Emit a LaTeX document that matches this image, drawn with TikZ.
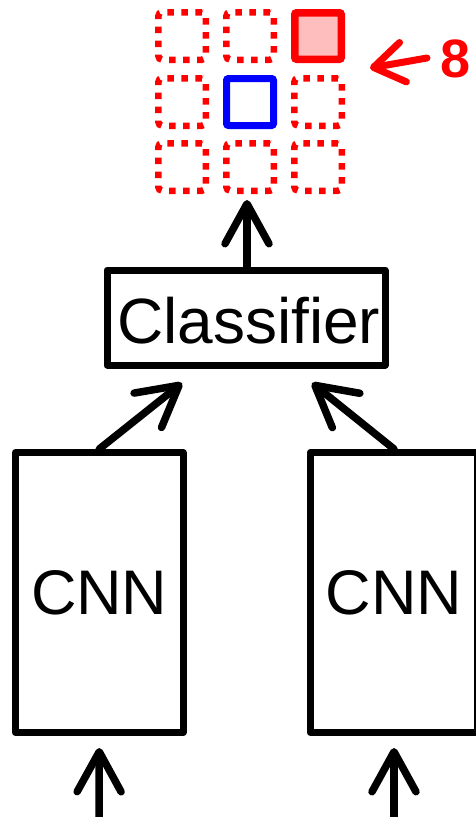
\documentclass[tikz,border=0pt]{standalone}
\usepackage{fontspec}
\setmainfont{Liberation Sans}
\usetikzlibrary{arrows.meta}
\definecolor{pinkfill}{RGB}{255,190,190}
\begin{document}
\begin{tikzpicture}[x=1pt,y=-1pt,
  boxst/.style={draw=black, line width=7pt, line join=round, inner sep=0pt},
  arr/.style={line width=7.5pt, line cap=round, -{Straight Barb[length=40pt,width=44pt,round]}},
  redarr/.style={draw=red, line width=7pt, line cap=round, -{Straight Barb[length=30pt,width=40pt,round]}},
  dotbox/.style={draw=red, line width=6.5pt, dash pattern=on 6.5pt off 7.5pt, rounded corners=4pt, minimum width=47.5pt, minimum height=47.5pt, inner sep=0pt},
  bigtext/.style={font=\fontsize{63pt}{68pt}\selectfont}
]
\useasboundingbox (0,0) rectangle (476,817);
% grid
\node[dotbox] (g11) at (182,36) {};
\node[dotbox] (g12) at (250,36) {};
\node[draw=red, fill=pinkfill, line width=7.5pt, rounded corners=2pt, minimum width=46.5pt, minimum height=46.5pt, inner sep=0pt] (g13) at (318,36) {};
\node[dotbox] (g21) at (182,102) {};
\node[draw=blue, line width=7pt, rounded corners=2pt, minimum width=47pt, minimum height=47pt, inner sep=0pt] (g22) at (250,102) {};
\node[dotbox] (g23) at (318,102) {};
\node[dotbox] (g31) at (182,167) {};
\node[dotbox] (g32) at (250,167) {};
\node[dotbox] (g33) at (318,167) {};
% red arrow and 8
\coordinate (rtail) at (427,58);
\coordinate (rtip) at (370,68);
\draw[redarr] (rtail) -- (rtip);
\node[text=red, font=\bfseries\fontsize{54pt}{56pt}\selectfont, inner sep=0pt] (eight) at (455.5,59) {8};
% classifier
\node[anchor=base west, inner sep=0pt, font=\fontsize{64pt}{68pt}\selectfont] (clstext) at (117,343) {Classifier};
\node[boxst, minimum width=278pt, minimum height=95pt] (cls) at (246,317.5) {};
% CNN boxes
\node[boxst, bigtext, minimum width=167.5pt, minimum height=280pt] (cnn1) at (99.25,592.5) {CNN};
\node[boxst, bigtext, minimum width=167.5pt, minimum height=280pt] (cnn2) at (394,592.5) {CNN};
% arrows
\coordinate (gtip) at (247,200);
\draw[arr] (cls.north -| gtip) -- (gtip);
\coordinate (ltip) at (182,383);
\coordinate (rtip2) at (312,383);
\draw[arr] (cnn1.north) -- (ltip);
\draw[arr] (cnn2.north) -- (rtip2);
\coordinate (in1) at (99,830);
\coordinate (in2) at (394,830);
\draw[arr] (in1) -- ([yshift=-12pt]cnn1.south);
\draw[arr] (in2) -- ([yshift=-12pt]cnn2.south);
\end{tikzpicture}
\end{document}
